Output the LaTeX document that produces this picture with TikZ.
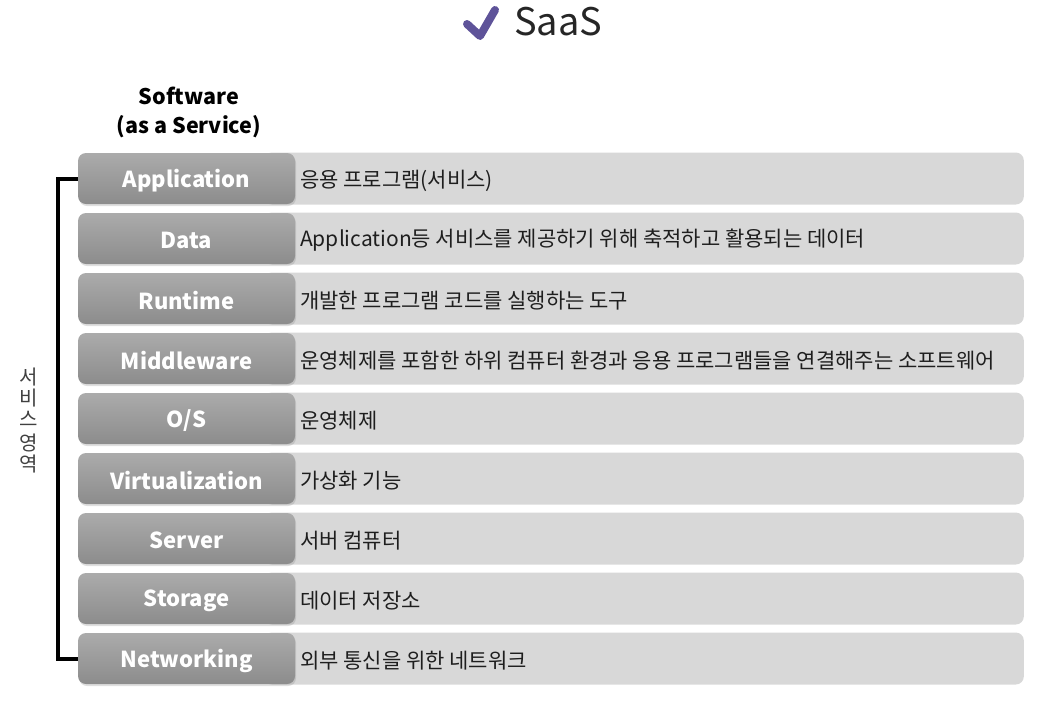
\documentclass[tikz,border=0pt]{standalone}
\usepackage{fontspec}
\setmainfont{Noto Sans CJK KR}
\usetikzlibrary{shadows}
\definecolor{chk}{HTML}{5E5399}
\definecolor{titlec}{HTML}{262626}
\definecolor{darktop}{HTML}{ABABAB}
\definecolor{darkbot}{HTML}{8C8C8C}
\definecolor{lightc}{HTML}{D8D8D8}
\definecolor{textc}{HTML}{1E1E1E}
\begin{document}
\begin{tikzpicture}[x=1pt,y=-1pt,
  darkbox/.style={rectangle, rounded corners=8pt, top color=darktop, bottom color=darkbot,
    draw=none, minimum width=217pt, minimum height=51pt, inner sep=0pt,
    drop shadow={shadow xshift=1pt, shadow yshift=-2pt, opacity=0.25}},
  darklabel/.style={inner sep=0pt, text=white, font=\fontsize{22}{26}\selectfont\bfseries},
  lightbox/.style={rectangle, rounded corners=8pt, fill=lightc, draw=none,
    minimum width=760pt, minimum height=52pt, inner sep=0pt, anchor=east},
  desc/.style={anchor=west, inner sep=0pt, text=textc, font=\fontsize{21}{24}\selectfont},
  bracketline/.style={line width=4pt, draw=black}
]
\useasboundingbox (0,0) rectangle (1056,705);
% title
\coordinate (c1) at (467,24);
\coordinate (c2) at (480,36);
\coordinate (c3) at (495,10);
\draw[chk, line width=8pt, line cap=round, line join=round] (c1) -- (c2) -- (c3);
\node[text=titlec, font=\fontsize{38}{44}\selectfont, anchor=west, inner sep=0pt] (title) at (514,22) {SaaS};
% header
\node[font=\fontsize{21.5}{29}\selectfont\bfseries, align=center, text=black] (hdr) at (189,112) {Software\\(as a Service)};
% rows
\foreach \i/\lab/\txt in {
  1/{Application}/{응용 프로그램(서비스)},
  2/{Data}/{Application등 서비스를 제공하기 위해 축적하고 활용되는 데이터},
  3/{Runtime}/{개발한 프로그램 코드를 실행하는 도구},
  4/{Middleware}/{운영체제를 포함한 하위 컴퓨터 환경과 응용 프로그램들을 연결해주는 소프트웨어},
  5/{O/S}/{운영체제},
  6/{Virtualization}/{가상화 기능},
  7/{Server}/{서버 컴퓨터},
  8/{Storage}/{데이터 저장소},
  9/{Networking}/{외부 통신을 위한 네트워크}}{
  \pgfmathsetmacro{\yy}{178.5+60*(\i-1)}
  \node[lightbox] (l\i) at (1024,\yy) {};
  \node[darkbox] (d\i) at (186.5,\yy) {};
  \node[darklabel] (n\i) at (186.5,\yy+2) {\lab};
  \node[desc] (t\i) at (300,\yy+2) {\txt};
}
% bracket
\draw[bracketline] (d1.west) -- ++(-20,0) |- (d9.west);
% side label
\node[font=\fontsize{20}{21}\selectfont, align=center, text=textc!85, inner sep=0pt] (side) at (29,420) {서\\비\\스\\[3pt]영\\역};
\end{tikzpicture}
\end{document}
